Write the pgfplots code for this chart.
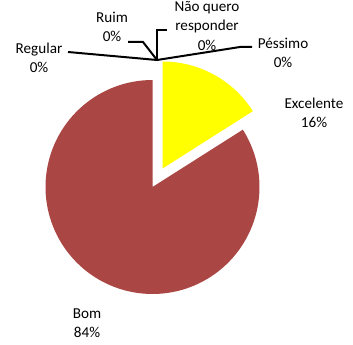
\documentclass[border=0pt]{standalone}
\usepackage{pgfplots}
\usepackage{pgfplotstable}
\pgfplotsset{compat=1.18}
\usepackage{fontspec}
\setmainfont{Carlito}
\definecolor{bomred}{HTML}{AA4643}
\definecolor{excyellow}{HTML}{FFFF00}
\tikzset{lbl/.style={font=\fontsize{15.2}{19.5}\selectfont, align=center, text=black, inner sep=0pt}}
\pgfplotstableread{
label value
Excelente 16
Bom 84
Regular 0
Ruim 0
NaoQuero 0
Pessimo 0
}\piedata
\pgfplotstablegetelem{0}{value}\of\piedata
\pgfmathsetmacro{\vExc}{\pgfplotsretval}
\pgfplotstablegetelem{1}{value}\of\piedata
\pgfmathsetmacro{\vBom}{\pgfplotsretval}
\pgfmathsetmacro{\aA}{90}
\pgfmathsetmacro{\aB}{90-3.6*\vExc}
\pgfmathsetmacro{\aC}{\aB-3.6*\vBom}
\begin{document}
\begin{tikzpicture}
\begin{axis}[
  width=353bp, height=345bp, scale only axis,
  hide axis, clip=false,
  xmin=0, xmax=353, ymin=0, ymax=345,
]
\path (rel axis cs:0,0) rectangle (rel axis cs:1,1);
% Bom slice
\addplot[draw=none, fill=bomred, domain=\aC:\aB, samples=120]
  ({152.5+107*cos(x)}, {158+107*sin(x)}) -- (axis cs:152.5,158) -- cycle;
% Excelente slice (exploded)
\addplot[draw=none, fill=excyellow, domain=\aB:\aA, samples=60]
  ({162.5+107*cos(x)}, {176.5+107*sin(x)}) -- (axis cs:162.5,176.5) -- cycle;
% leader lines for zero slices
\addplot[black, line width=2pt] coordinates {(157,285) (68,293)};
\addplot[black, line width=2pt] coordinates {(157,285) (143,303) (128,303)};
\addplot[black, line width=2pt] coordinates {(157,285) (157,315) (167,315)};
\addplot[black, line width=2pt] coordinates {(157,285) (240,298) (252,298)};
% labels
\node[lbl] at (axis cs:39,287) {Regular\\0\%};
\node[lbl] at (axis cs:112,318) {Ruim\\0\%};
\node[lbl] at (axis cs:207,319) {Não quero\\responder\\0\%};
\node[lbl] at (axis cs:283,292) {Péssimo\\0\%};
\node[lbl] at (axis cs:314,232) {Excelente\\16\%};
\node[lbl] at (axis cs:87,22) {Bom\\84\%};
\end{axis}
\end{tikzpicture}
\end{document}
